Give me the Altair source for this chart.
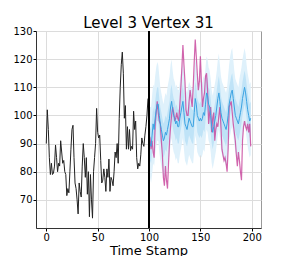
import altair as alt
import pandas as pd

# history (t = 0..99)
hist_t = list(range(0, 100))
hist_v = [90, 102, 95, 85, 79, 83, 79, 79.5, 82, 89.5,
          85, 80, 83, 82, 91, 87, 83, 84, 80, 79,
          71.5, 74, 72.5, 80, 88, 95, 96.5, 85, 76, 74,
          70, 65, 76, 73, 71, 82, 90, 85, 78, 85,
          72, 80, 64, 79, 70, 63.5, 80, 85, 90, 102.5,
          94, 92, 93, 84, 76, 77, 81, 78, 73, 81,
          78, 84.5, 73, 78, 77, 75, 80, 87, 85, 90,
          83, 99, 110, 118, 122.5, 115, 99, 103.5, 88, 96,
          88, 95, 87.5, 89, 88, 101.5, 95, 98, 85, 81,
          83, 82, 86, 92, 90, 89, 93, 96, 100, 106]

# forecast horizon (t = 100..199)
fc_t = list(range(100, 200))
actual = [93, 92, 88, 91, 87, 85, 97, 101, 105, 101,
          98, 97, 91, 86, 78, 75, 82, 77, 74, 83,
          91, 96, 100, 103, 101, 98, 99, 101, 99, 98,
          104, 110, 117, 125, 118, 112, 102, 100, 100, 105,
          109, 106, 103, 110, 119, 127, 121, 115, 109, 112,
          121, 112, 103, 106, 108, 114, 115, 109, 97, 101,
          103, 94, 99, 101, 91, 95, 97, 96, 100, 103,
          96, 88, 86, 84, 85, 83, 80, 88, 103, 104,
          105, 101, 97, 94, 91, 86, 82, 87, 84, 80,
          77, 91, 96, 98, 96, 95, 97, 94, 97, 89]
mean = [92, 90, 89, 93, 97, 95, 99, 102, 104, 104,
        100, 97, 95, 93, 91, 92, 94, 93, 95, 97,
        99, 103, 105, 102, 100, 99, 97, 98, 96, 96,
        99, 101, 103, 105, 101, 97, 96, 95, 97, 99,
        98, 97, 96, 96, 101, 106, 104, 100, 99, 98,
        99, 98, 99, 101, 100, 104, 108, 107, 104, 103,
        100, 96, 94, 96, 98, 100, 103, 106, 108, 105,
        101, 99, 98, 97, 96, 95, 97, 100, 104, 106,
        108, 109, 106, 103, 100, 99, 98, 97, 99, 101,
        103, 106, 108, 110, 108, 105, 102, 100, 98, 99]
upper_outer = [104, 103, 103, 107, 111, 110, 114, 117, 119, 118,
               114, 110, 108, 106, 104, 106, 108, 107, 110, 112,
               114, 118, 120, 116, 113, 112, 110, 111, 109, 109,
               112, 115, 117, 119, 115, 111, 109, 108, 110, 112,
               111, 110, 109, 110, 115, 120, 118, 114, 112, 111,
               112, 111, 112, 114, 113, 117, 121, 120, 117, 116,
               113, 109, 107, 109, 111, 113, 116, 120, 122, 118,
               114, 112, 111, 110, 109, 108, 110, 114, 118, 121,
               123, 124, 120, 116, 113, 112, 111, 110, 113, 115,
               117, 120, 122, 124, 122, 118, 115, 113, 111, 112]
lower_outer = [80, 78, 76, 79, 83, 82, 86, 89, 91, 91,
               87, 84, 82, 80, 78, 78, 80, 80, 82, 84,
               86, 90, 92, 89, 87, 86, 84, 85, 83, 83,
               86, 88, 90, 92, 88, 84, 83, 82, 84, 86,
               85, 84, 83, 83, 88, 93, 91, 87, 86, 85,
               86, 85, 86, 88, 87, 91, 95, 94, 91, 90,
               87, 83, 81, 83, 85, 87, 90, 93, 95, 92,
               88, 86, 85, 84, 83, 82, 84, 87, 91, 93,
               95, 96, 93, 90, 87, 86, 85, 84, 86, 88,
               90, 93, 95, 97, 95, 92, 89, 87, 85, 86]
upper_inner = [98, 96, 95, 99, 103, 101, 105, 108, 110, 110,
               106, 103, 101, 99, 97, 98, 100, 99, 101, 103,
               105, 109, 111, 108, 106, 105, 103, 104, 102, 102,
               105, 107, 109, 111, 107, 103, 102, 101, 103, 105,
               104, 103, 102, 102, 107, 112, 110, 106, 105, 104,
               105, 104, 105, 107, 106, 110, 114, 113, 110, 109,
               106, 102, 100, 102, 104, 106, 109, 112, 114, 111,
               107, 105, 104, 103, 102, 101, 103, 106, 110, 112,
               114, 115, 112, 109, 106, 105, 104, 103, 105, 107,
               109, 112, 114, 116, 114, 111, 108, 106, 104, 105]
lower_inner = [86, 84, 83, 87, 91, 89, 93, 96, 98, 98,
               94, 91, 89, 87, 85, 86, 88, 87, 89, 91,
               93, 97, 99, 96, 94, 93, 91, 92, 90, 90,
               93, 95, 97, 99, 95, 91, 90, 89, 91, 93,
               92, 91, 90, 90, 95, 100, 98, 94, 93, 92,
               93, 92, 93, 95, 94, 98, 102, 101, 98, 97,
               94, 90, 88, 90, 92, 94, 97, 100, 102, 99,
               95, 93, 92, 91, 90, 89, 91, 94, 98, 100,
               102, 103, 100, 97, 94, 93, 92, 91, 93, 95,
               97, 100, 102, 104, 102, 99, 96, 94, 92, 93]
split_t = [100]

x_ticks = [0, 50, 100, 150, 200]
y_ticks = [70, 80, 90, 100, 110, 120, 130]

hist_df = pd.DataFrame({"t": hist_t, "v": hist_v})
fc_df = pd.DataFrame({"t": fc_t, "actual": actual, "mean": mean,
                      "uo": upper_outer, "lo": lower_outer,
                      "ui": upper_inner, "li": lower_inner})
split_df = pd.DataFrame({"t": split_t})

xs = alt.Scale(domain=[-10, 209], nice=False, zero=False)
ys = alt.Scale(domain=[60, 130], nice=False, zero=False)


def X(field):
    return alt.X(field, scale=xs, axis=alt.Axis(values=x_ticks, title="Time Stamp",
                                                grid=True, labelOverlap=False))


def Y(field):
    return alt.Y(field, scale=ys, axis=alt.Axis(values=y_ticks, title=None,
                                                grid=True, labelOverlap=False))


outer = alt.Chart(fc_df).mark_area(color="#dff1fb", opacity=1).encode(
    x=X("t:Q"), y=Y("lo:Q"), y2="uo:Q")
inner = alt.Chart(fc_df).mark_area(color="#bfe3f7", opacity=1).encode(
    x=X("t:Q"), y=Y("li:Q"), y2="ui:Q")
act = alt.Chart(fc_df).mark_line(color="#c94a9f", strokeWidth=1.2, opacity=0.85).encode(
    x=X("t:Q"), y=Y("actual:Q"))
mn = alt.Chart(fc_df).mark_line(color="#3ba3e3", strokeWidth=1).encode(
    x=X("t:Q"), y=Y("mean:Q"))
hist = alt.Chart(hist_df).mark_line(color="#222222", strokeWidth=1).encode(
    x=X("t:Q"), y=Y("v:Q"))
split = alt.Chart(split_df).mark_rule(color="black", strokeWidth=2).encode(
    x=X("t:Q"))

chart = alt.layer(outer, inner, act, mn, hist, split).properties(
    width=225, height=197,
    autosize=alt.AutoSizeParams(type="none"),
    padding={"left": 28, "top": 23, "right": 12, "bottom": 28},
    title=alt.TitleParams("Level 3 Vertex 31", fontSize=15, font="DejaVu Sans",
                          fontWeight="normal", color="black", offset=-5),
).configure_axis(
    labelFont="DejaVu Sans", labelFontSize=10, labelColor="black",
    titleFont="DejaVu Sans", titleFontSize=13, titleFontWeight="normal", titleColor="black",
    tickColor="black", tickSize=3, labelPadding=1, titlePadding=2,
    domainColor="#333333", gridColor="#dcdcdc", gridWidth=1,
).configure_view(stroke="#999999", strokeWidth=1)

chart.save("out.html", embed_options={"renderer": "svg", "actions": False})
